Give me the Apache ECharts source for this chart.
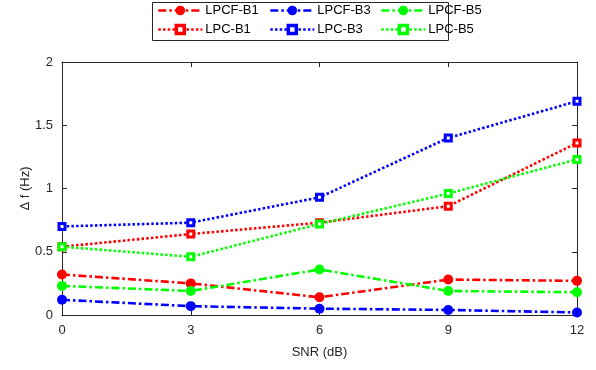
<!DOCTYPE html>
<html><head><meta charset="utf-8">
<script src="https://cdn.jsdelivr.net/npm/echarts@6/dist/echarts.min.js"></script>
<style>html,body{margin:0;padding:0;background:#fff}#c{width:596px;height:370px}</style>
</head><body><div id="c"></div>
<script>
const snr = [0, 3, 6, 9, 12];
const yTicks = [0, 0.5, 1, 1.5, 2];
const lpcfB1 = [0.32, 0.25, 0.14, 0.28, 0.27];
const lpcfB3 = [0.12, 0.07, 0.05, 0.04, 0.02];
const lpcfB5 = [0.23, 0.19, 0.36, 0.19, 0.18];
const lpcB1 = [0.54, 0.64, 0.73, 0.86, 1.36];
const lpcB3 = [0.70, 0.73, 0.93, 1.40, 1.69];
const lpcB5 = [0.54, 0.46, 0.72, 0.96, 1.23];

const RED = '#ff0000', BLUE = '#0000ff', GREEN = '#00ff00';
const dashDot = [8, 3, 2.5, 3];
const dotted = [2.5, 2.2];
const font = 'Liberation Sans, Arial, sans-serif';

function pairs(arr) { return snr.map((x, i) => [x, arr[i]]); }
function lpcf(name, color, arr) {
  return { name, type: 'line', data: pairs(arr), symbol: 'circle', symbolSize: 10,
    lineStyle: { color, width: 2.6, type: dashDot }, itemStyle: { color, borderWidth: 0 },
    z: 3, animation: false };
}
function lpc(name, color, arr) {
  return { name, type: 'line', data: pairs(arr), symbol: 'rect', symbolSize: 6,
    lineStyle: { color, width: 2.6, type: dotted }, itemStyle: { color: '#fff', borderColor: color, borderWidth: 3 },
    z: 3, animation: false };
}
const series = [
  lpcf('LPCF-B1', RED, lpcfB1), lpcf('LPCF-B3', BLUE, lpcfB3), lpcf('LPCF-B5', GREEN, lpcfB5),
  lpc('LPC-B1', RED, lpcB1), lpc('LPC-B3', BLUE, lpcB3), lpc('LPC-B5', GREEN, lpcB5)
];
const names = ['LPCF-B1', 'LPCF-B3', 'LPCF-B5', 'LPC-B1', 'LPC-B3', 'LPC-B5'];
const colX = [157, 269, 380];
const rowY = [4, 23];
const legends = names.map((n, i) => {
  const row = Math.floor(i / 3);
  return {
    data: [n], left: colX[i % 3], top: rowY[row], padding: 0,
    itemWidth: 44, itemHeight: row === 0 ? 12 : 10, itemGap: 0,
    lineStyle: { width: 2.6 },
    itemStyle: row === 1 ? { borderWidth: 3.5 } : {},
    textStyle: { fontFamily: font, fontSize: 13, color: '#000', padding: [0, 0, 0, -2] }
  };
});

const axisCommon = {
  axisLine: { show: true, onZero: false, lineStyle: { color: '#262626', width: 1 } },
  axisTick: { show: true, inside: true, length: 5, lineStyle: { color: '#262626' } },
  splitLine: { show: false },
  axisLabel: { fontFamily: font, fontSize: 13, color: '#262626' }
};
const chart = echarts.init(document.getElementById('c'));
chart.setOption({
  animation: false,
  legend: legends,
  grid: { left: 62, right: 19, top: 62, bottom: 55, show: false },
  xAxis: [
    Object.assign({}, axisCommon, { type: 'value', min: 0, max: 12, interval: 3, position: 'bottom',
      name: 'SNR (dB)', nameLocation: 'middle', nameGap: 31, nameMoveOverlap: false,
      nameTextStyle: { fontFamily: font, fontSize: 13, color: '#262626' },
      axisLabel: Object.assign({}, axisCommon.axisLabel, { margin: 9 }) }),
    Object.assign({}, axisCommon, { type: 'value', min: 0, max: 12, interval: 3, position: 'top',
      axisLabel: { show: false } })
  ],
  yAxis: [
    Object.assign({}, axisCommon, { type: 'value', min: 0, max: 2, interval: 0.5, position: 'left',
      name: 'Δ f (Hz)', nameLocation: 'middle', nameGap: 30, nameMoveOverlap: false,
      nameTextStyle: { fontFamily: font, fontSize: 13, color: '#262626' },
      axisLabel: Object.assign({}, axisCommon.axisLabel, { margin: 9, formatter: v => yTicks.includes(v) ? String(v) : '' }) }),
    Object.assign({}, axisCommon, { type: 'value', min: 0, max: 2, interval: 0.5, position: 'right',
      axisLabel: { show: false } })
  ],
  graphic: [{ type: 'rect', shape: { x: 152.5, y: 2.5, width: 296, height: 38 },
    style: { fill: null, stroke: '#262626', lineWidth: 1 }, silent: true }],
  series
});
</script></body></html>
